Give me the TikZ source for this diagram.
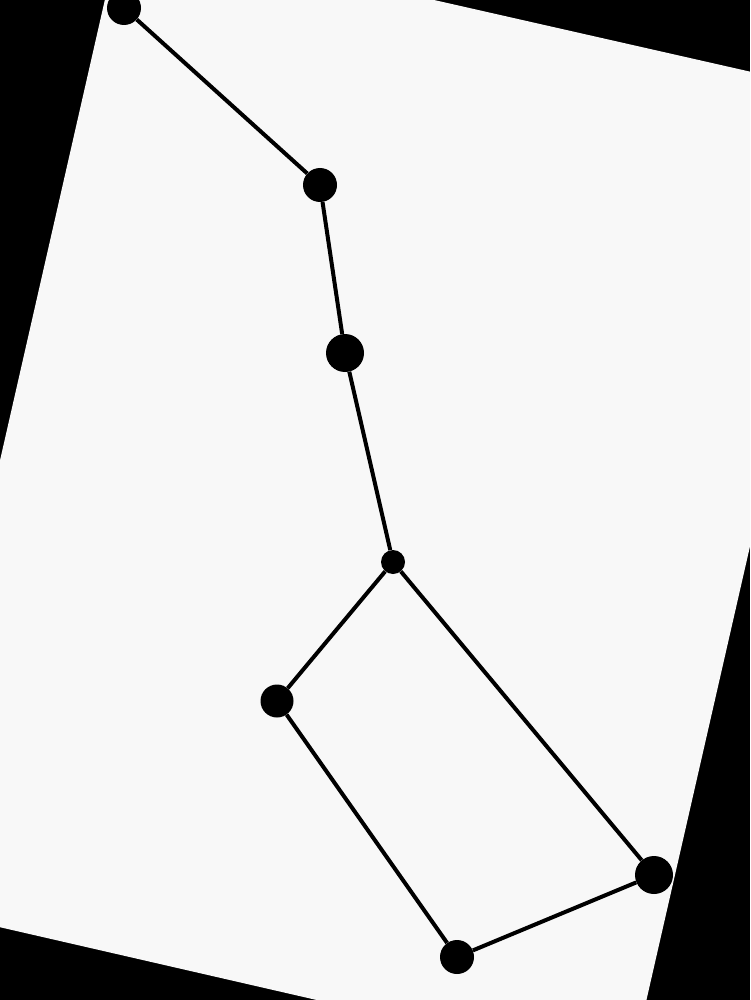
\documentclass[tikz,border=0pt]{standalone}
\usetikzlibrary{calc}
\definecolor{paperColor}{RGB}{248,248,248}
\tikzset{
    starDot/.style={
        ,   circle
        ,   inner sep = 0pt
        ,   draw = none
        ,   fill = black
        ,   minimum size = #1
    },
    starLink/.style={
        ,   line width = 4pt
        ,   draw = black
    }
}
\begin{document}
\begin{tikzpicture}[x=1pt, y=-1pt]
	\useasboundingbox (0,0) rectangle (750,1000);
	\clip (0,0) rectangle (750,1000);
	\fill[black] (0,0) rectangle (750,1000);
	\fill[paperColor] (121,-71) -- (853,95) -- (630,1072) -- (-101,904) -- cycle; % tilted sheet

	% handle
	\node[starDot=34pt] (S1) at (124,8) {};
	\node[starDot=34pt] (S2) at (320,185) {};
	\node[starDot=38pt] (S3) at (345,353) {};
	\node[starDot=24pt] (S4) at (393,562) {};
	% bowl
	\node[starDot=33pt] (S5) at (277,701) {};
	\node[starDot=34pt] (S6) at (457,957) {};
	\node[starDot=38pt] (S7) at (654,875) {};

	\draw[starLink] (S1) -- (S2) -- (S3) -- (S4);
	\draw[starLink] (S4) -- (S5) -- (S6) -- (S7) -- (S4);
\end{tikzpicture}
\end{document}
